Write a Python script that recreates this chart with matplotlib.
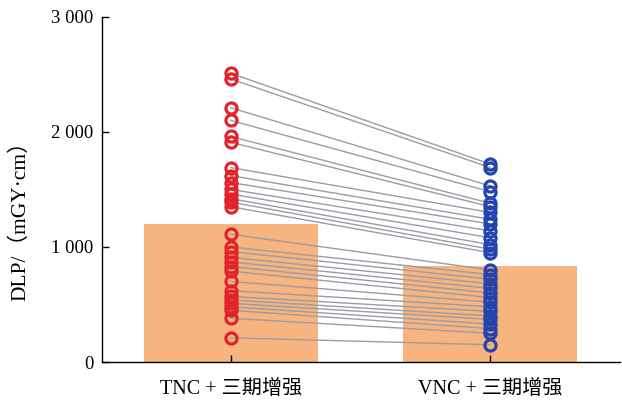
import matplotlib
matplotlib.use("Agg")
import matplotlib.pyplot as plt

plt.rcParams['font.family'] = ['Liberation Serif', 'Noto Sans CJK SC']

groups = ["TNC + 三期增强", "VNC + 三期增强"]
bar_values = [1200, 835]

tnc = [2510, 2460, 2210, 2100, 1960, 1910, 1690, 1620, 1560, 1500,
       1460, 1420, 1390, 1350, 1110, 1000, 960, 910, 870, 830,
       790, 700, 620, 570, 540, 510, 480, 450, 380, 210]
vnc = [1720, 1690, 1530, 1480, 1380, 1350, 1300, 1240, 1200, 1140,
       1080, 1020, 980, 950, 800, 760, 720, 680, 640, 600,
       560, 520, 480, 440, 400, 370, 330, 290, 250, 150]

y_ticks = [0, 1000, 2000, 3000]
y_tick_labels = ["0", "1 000", "2 000", "3 000"]

fig = plt.figure(figsize=(6.22, 4.03), dpi=100)
ax = fig.add_axes([0.164, 0.1017, 0.833, 0.8566])

x = [0, 1]
ax.bar(x, bar_values, width=0.67, color="#f7b47e", zorder=1)

for a, b in zip(tnc, vnc):
    ax.plot(x, [a, b], color="#9a9ca6", lw=1.0, zorder=2)

ax.plot([0] * len(tnc), tnc, ls="none", marker="o", ms=8, mfc="none",
        mec="#e1242b", mew=2.3, zorder=3)
ax.plot([1] * len(vnc), vnc, ls="none", marker="o", ms=8, mfc="none",
        mec="#2443ad", mew=2.3, zorder=3)

ax.set_xlim(-0.495, 1.5)
ax.set_ylim(0, 3000)
ax.set_yticks(y_ticks)
ax.set_yticklabels(y_tick_labels)
ax.set_xticks(x)
ax.set_xticklabels(groups)
ax.tick_params(axis="both", direction="in", length=5, width=1, labelsize=13.5)
ax.tick_params(axis="x", pad=13, labelsize=14.5)
ax.tick_params(axis="y", pad=6)
for s in ["top", "right"]:
    ax.spines[s].set_visible(False)
for s in ["left", "bottom"]:
    ax.spines[s].set_linewidth(1.0)

ax.set_ylabel("DLP/（mGY·cm）", fontsize=15.5)
ax.yaxis.set_label_coords(-0.138, 0.425)

fig.savefig("out.png", dpi=100)
